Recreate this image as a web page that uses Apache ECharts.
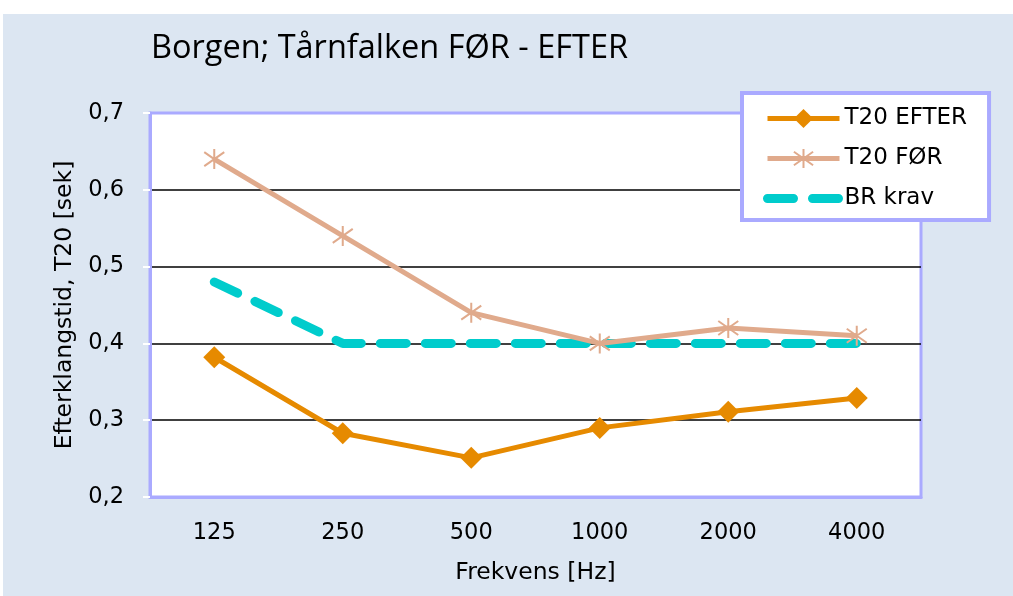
<!DOCTYPE html>
<html>
<head>
<meta charset="utf-8">
<script src="https://cdn.jsdelivr.net/npm/echarts@6/dist/echarts.min.js"></script>
<style>
  html, body { margin: 0; padding: 0; background: #fff; }
  #chart { width: 1013px; height: 596px; }
</style>
</head>
<body>
<div id="chart"></div>
<script>
// frekvenser og målte efterklangstider
const categories = ['125', '250', '500', '1000', '2000', '4000'];
const t20Efter = [0.382, 0.283, 0.251, 0.290, 0.311, 0.329];
const t20Foer = [0.64, 0.54, 0.44, 0.40, 0.42, 0.41];
const brKrav = [0.48, 0.40, 0.40, 0.40, 0.40, 0.40];

const chart = echarts.init(document.getElementById('chart'));
const axisFont = 'Tahoma, "DejaVu Sans", sans-serif';

const option = {
  backgroundColor: '#dce6f2',
  animation: false,
  graphic: [
    // hvid kant øverst / venstre som i originalen
    { type: 'rect', left: 0, top: 0, shape: { width: 1013, height: 14 }, style: { fill: '#fff' } },
    { type: 'rect', left: 0, top: 0, shape: { width: 3, height: 596 }, style: { fill: '#fff' } }
  ],
  title: {
    text: 'Borgen; Tårnfalken FØR - EFTER',
    left: 146,
    top: 27,
    textStyle: {
      fontFamily: '"Open Sans", Calibri, sans-serif',
      fontWeight: 'normal',
      fontSize: 32.5,
      color: '#000'
    }
  },
  legend: {
    left: 742,
    top: 93,
    orient: 'vertical',
    backgroundColor: '#fff',
    borderColor: '#aaaaff',
    borderWidth: 4,
    padding: [14, 22, 10, 21],
    itemGap: 17,
    itemWidth: 72,
    itemHeight: 24,
    textStyle: { fontFamily: axisFont, fontSize: 23, color: '#000' },
    lineStyle: { width: 'inherit' },
    data: [
      { name: 'T20 EFTER' },
      { name: 'T20 FØR' },
      { name: 'BR krav', itemStyle: { opacity: 0 } }
    ]
  },
  grid: {
    left: 150,
    right: 92,
    top: 113,
    bottom: 99,
    show: true,
    backgroundColor: '#fff',
    borderColor: '#aaaaff',
    borderWidth: 3
  },
  xAxis: {
    type: 'category',
    data: categories,
    boundaryGap: true,
    name: 'Frekvens [Hz]',
    nameLocation: 'middle',
    nameGap: 64,
    nameTextStyle: { fontFamily: axisFont, fontSize: 23.5, color: '#000' },
    axisLine: { show: true, lineStyle: { color: '#aaaaff', width: 3 } },
    axisTick: { show: false },
    axisLabel: { margin: 25, fontFamily: axisFont, fontSize: 22.5, color: '#000' }
  },
  yAxis: {
    type: 'value',
    min: 0.2,
    max: 0.7,
    interval: 0.1,
    name: 'Efterklangstid, T20 [sek]',
    nameLocation: 'middle',
    nameGap: 70,
    nameTextStyle: { fontFamily: axisFont, fontSize: 23.5, color: '#000' },
    axisLine: { show: true, lineStyle: { color: '#aaaaff', width: 3 } },
    axisTick: { show: true, length: 7, lineStyle: { color: '#fff', width: 2 } },
    axisLabel: {
      margin: 26,
      fontFamily: axisFont,
      fontSize: 22.5,
      color: '#000',
      formatter: v => v.toFixed(1).replace('.', ',')
    },
    splitLine: {
      show: true,
      showMinLine: false,
      showMaxLine: false,
      lineStyle: { color: '#000', width: 1.5 }
    }
  },
  series: [
    {
      name: 'T20 EFTER',
      type: 'line',
      data: t20Efter,
      symbol: 'diamond',
      symbolSize: 22,
      z: 4,
      lineStyle: { color: '#e68a00', width: 5 },
      itemStyle: { color: '#e68a00' }
    },
    {
      name: 'T20 FØR',
      type: 'line',
      data: t20Foer,
      symbol: 'path://M0,-10L0,10M-9,-7L9,7M-9,7L9,-7',
      symbolSize: 20,
      z: 3,
      lineStyle: { color: '#e0aa8c', width: 5 },
      itemStyle: { color: '#e0aa8c', borderColor: '#e0aa8c', borderWidth: 2 }
    },
    {
      name: 'BR krav',
      type: 'line',
      data: brKrav,
      symbol: 'none',
      z: 2,
      lineStyle: { color: '#00cccc', width: 9, type: [26, 19], cap: 'round' },
      itemStyle: { color: '#00cccc' }
    }
  ]
};

option && chart.setOption(option);
</script>
</body>
</html>
